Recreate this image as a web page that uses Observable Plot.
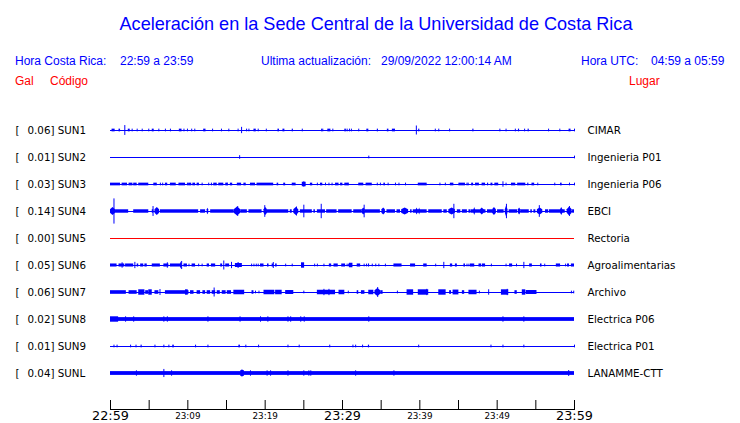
<!DOCTYPE html>
<html>
<head>
<meta charset="utf-8">
<script src="https://cdn.jsdelivr.net/npm/d3@7"></script>
<script src="https://cdn.jsdelivr.net/npm/@observablehq/plot@0.6"></script>
<style>
  html, body { margin: 0; padding: 0; background: #fff; }
  #wrap { position: relative; width: 740px; height: 423px; overflow: hidden; }
  .h { position: absolute; white-space: pre; font-family: "Liberation Sans", Arial, sans-serif; }
  .blue { color: #0000ff; }
  .red { color: #ff0000; }
  #chart { position: absolute; left: 0; top: 0; }
</style>
</head>
<body>
<div id="wrap">
  <div class="h blue" style="left:0;width:752px;text-align:center;top:14.7px;font-size:18.1px;line-height:18.1px;">Aceleración en la Sede Central de la Universidad de Costa Rica</div>
  <div class="h blue" style="left:15px;top:54.8px;font-size:12px;line-height:12px;">Hora Costa Rica:</div>
  <div class="h blue" style="left:120px;top:54.8px;font-size:12px;line-height:12px;">22:59 a 23:59</div>
  <div class="h blue" style="left:261px;top:54.8px;font-size:12px;line-height:12px;">Ultima actualización:</div>
  <div class="h blue" style="left:381px;top:54.8px;font-size:12px;line-height:12px;">29/09/2022 12:00:14 AM</div>
  <div class="h blue" style="left:581px;top:54.8px;font-size:12px;line-height:12px;">Hora UTC:</div>
  <div class="h blue" style="left:651px;top:54.8px;font-size:12px;line-height:12px;">04:59 a 05:59</div>
  <div class="h red" style="left:15px;top:74.8px;font-size:12px;line-height:12px;">Gal</div>
  <div class="h red" style="left:50px;top:74.8px;font-size:12px;line-height:12px;">Código</div>
  <div class="h red" style="left:629px;top:74.8px;font-size:12px;line-height:12px;">Lugar</div>
  <div id="chart"></div>
</div>
<script>
// ---- data ----
const codes = ["SUN1","SUN2","SUN3","SUN4","SUN5","SUN6","SUN7","SUN8","SUN9","SUNL"];
const places = ["CIMAR","Ingenieria P01","Ingenieria P06","EBCI","Rectoria","Agroalimentarias","Archivo","Electrica P06","Electrica P01","LANAMME-CTT"];
const peaks = [0.06,0.01,0.03,0.14,0.00,0.05,0.06,0.02,0.01,0.04];
const traceColors = ["#0000ff","#0000ff","#0000ff","#0000ff","#ff0000","#0000ff","#0000ff","#0000ff","#0000ff","#0000ff"];
// steady background amplitude of each trace (Gal)
const baseAmp = [0,0,0,0,0,0,0,0.021,0,0.021];
// typical noise level of each trace (Gal); stronger bursts rise above it
const noiseAmp = [0.015,0.01,0.015,0.019,0,0.017,0.02,0.021,0.015,0.021];

// tick positions (minutes after 22:59) and labels
const tickMinutes = [0,5,10,15,20,25,30,35,40,45,50,55,60];
const majorTicks = [0,30,60];
const minorTicks = [10,20,40,50];
const tickLabels = {0:"22:59",10:"23:09",20:"23:19",30:"23:29",40:"23:39",50:"23:49",60:"23:59"};

// bursts: [start minute, end minute, half amplitude Gal]
const sun1Spans = [[0.2,0.6,0.015],[1.1,1.3,0.015],[2.3,2.55,0.015],[5.4,5.65,0.015],[8.9,9.25,0.015],[12.05,12.35,0.015],[18.55,18.85,0.015],[21.65,21.85,0.015],[22.3,22.55,0.015],[23.5,23.65,0.015],[28.1,28.5,0.015],[30.3,30.5,0.015],[33.15,33.4,0.015],[34.5,34.65,0.015],[35.8,36.0,0.015],[36.45,36.85,0.015],[39.85,40.0,0.015],[46.85,47.0,0.015],[52.75,52.9,0.015],[54.0,54.15,0.015],[59.3,59.55,0.015]];
const sun1Spikes = [[1.85,0.055],[16.95,0.035],[39.55,0.05],[2.8,0.015],[3.45,0.015],[4.1,0.015],[4.95,0.015],[6.25,0.015],[7.1,0.015],[7.75,0.015],[9.5,0.015],[9.95,0.015],[10.5,0.015],[10.9,0.015],[13.2,0.015],[14.35,0.015],[15.3,0.015],[16.5,0.015],[17.6,0.015],[17.9,0.015],[19.1,0.015],[20.15,0.015],[24.8,0.015],[27.3,0.015],[27.45,0.015],[28.75,0.015],[30.6,0.015],[30.9,0.015],[31.15,0.015],[32.1,0.015],[42.0,0.015],[42.45,0.015],[43.85,0.015],[50.35,0.015],[51.15,0.015],[52.35,0.015],[53.55,0.015],[56.65,0.015],[58.1,0.015],[60,0.015]];

const sun2Spans = [];
const sun2Spikes = [[16.7,0.02],[33.4,0.015],[60,0.015]];

const sun3Spans = [[0,1.3,0.015],[1.5,2.2,0.015],[2.4,2.9,0.015],[3.0,3.45,0.015],[3.65,4.95,0.015],[5.6,6.05,0.015],[7.1,7.4,0.015],[7.75,8.5,0.015],[8.85,9.7,0.015],[10.1,10.5,0.015],[10.65,11.0,0.015],[11.2,11.5,0.015],[13.35,13.8,0.015],[14.0,14.65,0.015],[14.9,15.2,0.015],[15.5,15.8,0.015],[16.4,16.95,0.015],[17.25,17.55,0.015],[18.1,18.75,0.015],[18.95,21.1,0.015],[21.55,21.75,0.015],[22.4,22.65,0.015],[23.5,24.0,0.015],[24.8,25.3,0.025],[25.85,26.15,0.015],[27.15,27.45,0.015],[29.1,29.55,0.015],[29.75,30.05,0.015],[30.3,30.8,0.015],[32.1,32.75,0.015],[33.05,33.85,0.015],[35.35,35.55,0.015],[39.8,40.95,0.015],[43.95,44.4,0.015],[45.05,45.9,0.015],[46.7,46.95,0.015],[47.2,47.7,0.015],[48.05,48.5,0.015],[48.75,48.9,0.015],[49.2,49.45,0.015],[49.7,50.2,0.015],[51.85,52.4,0.015],[52.65,53.7,0.015],[53.95,54.1,0.015],[54.5,54.85,0.015],[58.2,58.4,0.015]];
const sun3Spikes = [[25.0,0.03],[50.75,0.03],[6.45,0.015],[6.75,0.015],[9.95,0.015],[11.85,0.015],[12.7,0.015],[13.05,0.015],[15.1,0.015],[26.75,0.015],[27.8,0.015],[28.25,0.015],[28.65,0.015],[30.75,0.015],[34.5,0.015],[34.9,0.015],[35.9,0.015],[36.85,0.015],[37.3,0.015],[38.15,0.015],[42.6,0.015],[43.3,0.015],[46.1,0.015],[46.25,0.015],[51.15,0.015],[55.25,0.015],[57.45,0.015],[59.35,0.015],[60,0.015]];

const sun4Spans = [[0,0.65,0.045],[0.65,2.35,0.019],[3.0,4.95,0.019],[5.4,5.6,0.019],[5.75,6.35,0.045],[6.45,11.4,0.019],[11.65,12.3,0.019],[12.5,12.7,0.035],[12.95,16.0,0.019],[16.0,16.85,0.05],[16.85,17.7,0.019],[17.9,19.6,0.019],[19.85,20.3,0.045],[20.3,23.05,0.019],[23.25,23.5,0.019],[23.7,24.35,0.045],[24.55,26.1,0.019],[26.3,26.5,0.019],[26.75,27.8,0.019],[27.95,29.3,0.019],[29.5,31.25,0.019],[31.45,32.55,0.019],[32.55,32.95,0.04],[32.95,34.9,0.019],[35.1,35.55,0.04],[35.75,36.85,0.019],[37.05,37.5,0.019],[37.65,38.55,0.04],[38.8,39.0,0.019],[39.15,40.95,0.019],[39.55,39.75,0.04],[39.9,40.05,0.04],[41.15,42.9,0.019],[43.1,43.55,0.019],[43.75,44.6,0.04],[44.85,45.3,0.019],[45.5,46.15,0.019],[46.35,46.55,0.019],[46.6,48.55,0.019],[47.0,47.2,0.045],[47.85,48.3,0.04],[48.75,49.4,0.019],[49.4,49.9,0.045],[50.05,50.9,0.019],[51.05,51.4,0.06],[51.55,52.65,0.019],[52.75,53.05,0.04],[53.05,54.15,0.019],[54.35,54.55,0.019],[54.75,55.0,0.019],[55.2,55.9,0.04],[56.25,56.65,0.019],[56.75,58.8,0.019],[58.2,58.5,0.045],[59.05,59.7,0.05],[59.75,60,0.019]];
const sun4Spikes = [[0.45,0.14],[5.5,0.055],[16.45,0.055],[19.95,0.065],[24.05,0.05],[25.0,0.07],[27.25,0.08],[32.8,0.07],[44.4,0.08],[51.2,0.08],[55.45,0.065],[59.35,0.055]];

const sun5Spans = [];
const sun5Spikes = [];

const sun6Spans = [[0,0.85,0.017],[1.1,1.85,0.017],[1.95,3.0,0.017],[3.45,3.65,0.017],[3.9,4.3,0.017],[4.45,4.75,0.017],[5.4,6.45,0.017],[6.9,7.55,0.017],[7.75,9.05,0.017],[9.05,9.25,0.04],[9.5,9.95,0.017],[10.55,11.0,0.017],[12.5,12.8,0.017],[13.05,13.6,0.017],[14.25,14.5,0.017],[14.9,15.4,0.017],[16.15,17.05,0.022],[19.4,19.85,0.017],[20.3,20.5,0.017],[20.9,21.1,0.017],[21.35,21.55,0.017],[24.7,25.1,0.03],[28.3,28.6,0.017],[28.9,29.45,0.017],[29.9,30.4,0.017],[30.9,31.35,0.025],[31.9,32.35,0.017],[33.35,33.5,0.017],[36.65,37.7,0.017],[38.8,39.45,0.017],[40.5,40.95,0.017],[43.95,44.25,0.017],[44.6,44.85,0.017],[45.7,45.9,0.017],[46.55,47.1,0.017],[47.65,48.0,0.017],[48.1,48.5,0.017],[51.6,52.0,0.017],[54.2,54.55,0.017],[55.6,55.8,0.017],[57.65,58.2,0.017],[59.1,59.35,0.017],[59.6,60,0.017]];
const sun6Spikes = [[1.5,0.03],[3.15,0.035],[7.35,0.03],[9.2,0.045],[14.65,0.05],[15.65,0.035],[16.5,0.033],[21.05,0.033],[43.1,0.035],[53.45,0.035],[10.15,0.015],[11.4,0.015],[11.85,0.015],[18.25,0.015],[18.55,0.015],[18.85,0.015],[19.1,0.015],[22.65,0.015],[23.5,0.015],[26.4,0.015],[26.75,0.015],[27.6,0.015],[30.6,0.015],[30.8,0.015],[32.8,0.015],[33.1,0.015],[33.85,0.015],[34.3,0.015],[34.7,0.015],[35.55,0.015],[42.05,0.015],[46.1,0.015],[46.35,0.015],[49.25,0.015],[51.15,0.015],[52.5,0.015],[56.15,0.015],[58.85,0.015]];

const sun7Spans = [[0,2.05,0.02],[2.4,3.45,0.02],[3.65,4.45,0.03],[4.55,4.95,0.02],[4.95,5.4,0.03],[5.75,6.25,0.02],[7.1,10.15,0.02],[9.7,10.05,0.03],[10.35,10.8,0.02],[11.2,11.65,0.02],[11.95,12.3,0.02],[12.5,12.95,0.02],[13.15,13.6,0.02],[13.8,14.2,0.02],[14.45,14.95,0.02],[15.1,15.65,0.02],[15.95,17.35,0.025],[18.3,18.55,0.02],[19.85,21.25,0.025],[21.35,22.2,0.025],[22.65,23.7,0.022],[26.75,29.1,0.025],[29.55,30.3,0.025],[31.9,32.1,0.02],[32.45,32.9,0.02],[33.4,34.05,0.025],[34.2,34.95,0.045],[34.95,35.25,0.02],[38.35,39.2,0.03],[39.8,41.15,0.03],[42.45,43.4,0.03],[43.85,44.1,0.02],[44.3,45.05,0.027],[45.5,45.8,0.02],[46.35,47.4,0.025],[50.55,51.5,0.03],[52.3,52.6,0.02],[53.25,53.7,0.03],[53.75,55.15,0.022]];
const sun7Spikes = [[6.4,0.033],[13.4,0.05],[27.6,0.035],[28.25,0.035],[34.55,0.055],[40.9,0.035],[48.9,0.03],[51.3,0.035],[18.75,0.015],[19.2,0.015],[25.0,0.015],[30.75,0.015],[37.1,0.015],[47.7,0.015],[59.6,0.015],[59.9,0.015]];

const sun8Spans = [[0,1.05,0.03]];
const sun8Spikes = [[1.95,0.03],[3.0,0.03],[6.9,0.03],[7.35,0.03],[12.6,0.03],[16.75,0.03],[19.4,0.03],[20.35,0.03],[22.95,0.03],[23.3,0.03],[24.6,0.03],[25.05,0.03],[33.4,0.03],[50.75,0.03],[53.45,0.03]];

const sun9Spans = [[3.95,4.1,0.015],[8.05,8.25,0.015],[16.6,16.8,0.015],[33.35,33.5,0.015]];
const sun9Spikes = [[0.45,0.015],[0.85,0.015],[2.6,0.015],[3.3,0.015],[5.75,0.015],[6.9,0.015],[7.55,0.015],[11.0,0.015],[12.6,0.015],[17.5,0.015],[19.15,0.015],[22.95,0.015],[24.4,0.015],[28.35,0.015],[31.35,0.015],[31.7,0.015],[32.6,0.015],[39.85,0.015],[49.2,0.015],[50.75,0.015],[53.45,0.015],[60,0.015]];

const sunLSpans = [[16.85,17.3,0.033]];
const sunLSpikes = [[3.35,0.03],[6.9,0.045],[7.9,0.03],[17.0,0.04],[18.1,0.03],[20.25,0.03],[20.7,0.03],[22.95,0.03],[25.0,0.03],[25.65,0.03],[25.9,0.03],[31.7,0.03],[36.65,0.03],[59.25,0.033]];

const allSpans = [sun1Spans,sun2Spans,sun3Spans,sun4Spans,sun5Spans,sun6Spans,sun7Spans,sun8Spans,sun9Spans,sunLSpans];
const allSpikes = [sun1Spikes,sun2Spikes,sun3Spikes,sun4Spikes,sun5Spikes,sun6Spikes,sun7Spikes,sun8Spikes,sun9Spikes,sunLSpikes];

// ---- build tables ----
const spacing = 0.3; // Gal between trace centres
const stations = codes.map((c, i) => ({i, code: c, place: places[i], peak: peaks[i], color: traceColors[i], base: baseAmp[i], noise: noiseAmp[i], c: i * spacing}));
const flatSpans = stations.flatMap(s => allSpans[s.i].map(([t1, t2, a], k) => ({id: `${s.i}-${k}`, s, t1, t2, a})));
const isBurst = d => d.a > d.s.noise + 0.015;
// quiet stretches: flat blocks
const spans = flatSpans.filter(d => !isBurst(d))
  .map(d => ({t1: d.t1, t2: d.t2, lo: d.s.c - d.a, hi: d.s.c + d.a, color: d.s.color}));
// stronger bursts: spindle that rises from the noise level to the burst amplitude
const bursts = flatSpans.filter(isBurst).flatMap(d => [
  {id: d.id, t: d.t1, lo: d.s.c - d.s.noise, hi: d.s.c + d.s.noise, color: d.s.color},
  {id: d.id, t: (d.t1 + d.t2) / 2, lo: d.s.c - d.a, hi: d.s.c + d.a, color: d.s.color},
  {id: d.id, t: d.t2, lo: d.s.c - d.s.noise, hi: d.s.c + d.s.noise, color: d.s.color}
]);
const spikes = stations.flatMap(s => allSpikes[s.i].map(([t, a]) => ({t, lo: s.c - a, hi: s.c + a, color: s.color})));
const bands = stations.filter(s => s.base > 0).map(s => ({lo: s.c - s.base, hi: s.c + s.base, color: s.color}));

const font = "DejaVu Sans";
const chart = Plot.plot({
  width: 740,
  height: 423,
  marginLeft: 110,
  marginRight: 166,
  marginTop: 100,
  marginBottom: 14,
  style: {fontFamily: font, background: "transparent", overflow: "visible"},
  x: {domain: [0, 60], label: null},
  y: {domain: [0, 9 * spacing], range: [130, 373], axis: null},
  marks: [
    Plot.ruleY(stations, {y: "c", x1: 0, x2: 60, stroke: "color", strokeWidth: 1}),
    Plot.rect(bands, {x1: 0, x2: 60, y1: "lo", y2: "hi", fill: "color"}),
    Plot.rect(spans, {x1: "t1", x2: "t2", y1: "lo", y2: "hi", fill: "color"}),
    Plot.area(bursts, {x1: "t", y1: "lo", y2: "hi", z: "id", fill: "color"}),
    Plot.ruleX(spikes, {x: "t", y1: "lo", y2: "hi", stroke: "color", strokeWidth: 1}),
    Plot.text(stations, {frameAnchor: "left", y: "c", text: () => "[", dx: -95, textAnchor: "start", fontSize: 10.3, fill: "black"}),
    Plot.text(stations, {frameAnchor: "left", y: "c", text: d => `${d.peak.toFixed(2)}] ${d.code}`, dx: -83, textAnchor: "start", fontSize: 10.3, fill: "black"}),
    Plot.text(stations, {frameAnchor: "right", y: "c", text: "place", dx: 13, textAnchor: "start", fontSize: 10.3, fill: "black"}),
    Plot.axisX({ticks: tickMinutes, tickSize: -9, tickFormat: () => "", label: null}),
    Plot.axisX({ticks: majorTicks, tickSize: 0, tickPadding: 1.5, fontSize: 12.8, tickFormat: d => tickLabels[d], label: null}),
    Plot.axisX({ticks: minorTicks, tickSize: 0, tickPadding: 3, fontSize: 8.8, tickFormat: d => tickLabels[d], label: null}),
    Plot.frame({anchor: "bottom"})
  ]
});
document.getElementById("chart").appendChild(chart);
</script>
</body>
</html>
